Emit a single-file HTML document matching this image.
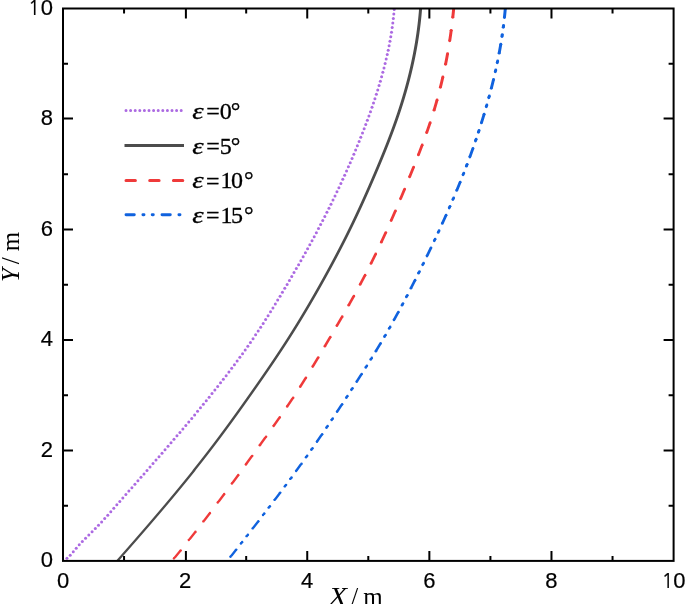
<!DOCTYPE html>
<html><head><meta charset="utf-8"><style>
html,body{margin:0;padding:0;background:#fff;width:685px;height:604px;overflow:hidden}
svg{display:block}
</style></head><body>
<svg width="685" height="604" viewBox="0 0 685 604"><defs><clipPath id="c"><rect x="63.0" y="8.5" width="610.6" height="552.4"/></clipPath></defs>
<g clip-path="url(#c)" stroke="none">
<g fill="#AC6AE2"><circle cx="63.42" cy="561.29" r="1.50"/><circle cx="66.94" cy="558.36" r="1.50"/><circle cx="70.21" cy="555.17" r="1.50"/><circle cx="73.28" cy="551.77" r="1.50"/><circle cx="76.24" cy="548.28" r="1.50"/><circle cx="79.22" cy="544.81" r="1.50"/><circle cx="82.34" cy="541.46" r="1.50"/><circle cx="85.56" cy="538.21" r="1.50"/><circle cx="88.82" cy="535.01" r="1.50"/><circle cx="92.09" cy="531.81" r="1.50"/><circle cx="95.32" cy="528.56" r="1.50"/><circle cx="98.49" cy="525.27" r="1.50"/><circle cx="101.62" cy="521.93" r="1.50"/><circle cx="104.71" cy="518.55" r="1.50"/><circle cx="107.76" cy="515.15" r="1.50"/><circle cx="110.79" cy="511.72" r="1.50"/><circle cx="113.81" cy="508.28" r="1.50"/><circle cx="116.82" cy="504.84" r="1.50"/><circle cx="119.83" cy="501.39" r="1.50"/><circle cx="122.84" cy="497.95" r="1.50"/><circle cx="125.86" cy="494.51" r="1.50"/><circle cx="128.88" cy="491.07" r="1.50"/><circle cx="131.90" cy="487.63" r="1.50"/><circle cx="134.91" cy="484.20" r="1.50"/><circle cx="137.93" cy="480.76" r="1.50"/><circle cx="140.95" cy="477.32" r="1.50"/><circle cx="143.97" cy="473.88" r="1.50"/><circle cx="146.98" cy="470.44" r="1.50"/><circle cx="150.00" cy="467.00" r="1.50"/><circle cx="153.01" cy="463.55" r="1.50"/><circle cx="156.02" cy="460.11" r="1.50"/><circle cx="159.02" cy="456.66" r="1.50"/><circle cx="162.02" cy="453.20" r="1.50"/><circle cx="165.02" cy="449.75" r="1.50"/><circle cx="168.01" cy="446.29" r="1.50"/><circle cx="171.00" cy="442.82" r="1.50"/><circle cx="173.98" cy="439.35" r="1.50"/><circle cx="176.95" cy="435.87" r="1.50"/><circle cx="179.92" cy="432.39" r="1.50"/><circle cx="182.88" cy="428.90" r="1.50"/><circle cx="185.83" cy="425.41" r="1.50"/><circle cx="188.78" cy="421.91" r="1.50"/><circle cx="191.72" cy="418.40" r="1.50"/><circle cx="194.65" cy="414.89" r="1.50"/><circle cx="197.56" cy="411.36" r="1.50"/><circle cx="200.47" cy="407.83" r="1.50"/><circle cx="203.37" cy="404.29" r="1.50"/><circle cx="206.26" cy="400.75" r="1.50"/><circle cx="209.14" cy="397.19" r="1.50"/><circle cx="212.00" cy="393.62" r="1.50"/><circle cx="214.86" cy="390.05" r="1.50"/><circle cx="217.70" cy="386.46" r="1.50"/><circle cx="220.52" cy="382.86" r="1.50"/><circle cx="223.34" cy="379.25" r="1.50"/><circle cx="226.13" cy="375.63" r="1.50"/><circle cx="228.91" cy="372.00" r="1.50"/><circle cx="231.68" cy="368.35" r="1.50"/><circle cx="234.42" cy="364.69" r="1.50"/><circle cx="237.15" cy="361.02" r="1.50"/><circle cx="239.85" cy="357.33" r="1.50"/><circle cx="242.54" cy="353.63" r="1.50"/><circle cx="245.20" cy="349.91" r="1.50"/><circle cx="247.84" cy="346.17" r="1.50"/><circle cx="250.46" cy="342.42" r="1.50"/><circle cx="253.05" cy="338.65" r="1.50"/><circle cx="255.62" cy="334.86" r="1.50"/><circle cx="258.16" cy="331.05" r="1.50"/><circle cx="260.67" cy="327.23" r="1.50"/><circle cx="263.17" cy="323.40" r="1.50"/><circle cx="265.64" cy="319.55" r="1.50"/><circle cx="268.09" cy="315.68" r="1.50"/><circle cx="270.52" cy="311.81" r="1.50"/><circle cx="272.93" cy="307.92" r="1.50"/><circle cx="275.33" cy="304.02" r="1.50"/><circle cx="277.71" cy="300.12" r="1.50"/><circle cx="280.07" cy="296.20" r="1.50"/><circle cx="282.42" cy="292.28" r="1.50"/><circle cx="284.76" cy="288.34" r="1.50"/><circle cx="287.10" cy="284.41" r="1.50"/><circle cx="289.42" cy="280.47" r="1.50"/><circle cx="291.73" cy="276.52" r="1.50"/><circle cx="294.03" cy="272.57" r="1.50"/><circle cx="296.33" cy="268.61" r="1.50"/><circle cx="298.61" cy="264.64" r="1.50"/><circle cx="300.88" cy="260.67" r="1.50"/><circle cx="303.14" cy="256.69" r="1.50"/><circle cx="305.38" cy="252.70" r="1.50"/><circle cx="307.61" cy="248.71" r="1.50"/><circle cx="309.83" cy="244.71" r="1.50"/><circle cx="312.02" cy="240.69" r="1.50"/><circle cx="314.21" cy="236.67" r="1.50"/><circle cx="316.37" cy="232.64" r="1.50"/><circle cx="318.52" cy="228.60" r="1.50"/><circle cx="320.64" cy="224.55" r="1.50"/><circle cx="322.75" cy="220.49" r="1.50"/><circle cx="324.84" cy="216.42" r="1.50"/><circle cx="326.91" cy="212.34" r="1.50"/><circle cx="328.96" cy="208.25" r="1.50"/><circle cx="330.99" cy="204.15" r="1.50"/><circle cx="333.00" cy="200.04" r="1.50"/><circle cx="334.99" cy="195.92" r="1.50"/><circle cx="336.96" cy="191.79" r="1.50"/><circle cx="338.92" cy="187.66" r="1.50"/><circle cx="340.85" cy="183.51" r="1.50"/><circle cx="342.77" cy="179.35" r="1.50"/><circle cx="344.66" cy="175.19" r="1.50"/><circle cx="346.54" cy="171.02" r="1.50"/><circle cx="348.40" cy="166.84" r="1.50"/><circle cx="350.24" cy="162.65" r="1.50"/><circle cx="352.05" cy="158.45" r="1.50"/><circle cx="353.85" cy="154.24" r="1.50"/><circle cx="355.62" cy="150.03" r="1.50"/><circle cx="357.37" cy="145.80" r="1.50"/><circle cx="359.10" cy="141.56" r="1.50"/><circle cx="360.81" cy="137.32" r="1.50"/><circle cx="362.49" cy="133.06" r="1.50"/><circle cx="364.14" cy="128.80" r="1.50"/><circle cx="365.77" cy="124.52" r="1.50"/><circle cx="367.37" cy="120.24" r="1.50"/><circle cx="368.94" cy="115.94" r="1.50"/><circle cx="370.49" cy="111.63" r="1.50"/><circle cx="372.00" cy="107.32" r="1.50"/><circle cx="373.48" cy="102.99" r="1.50"/><circle cx="374.93" cy="98.65" r="1.50"/><circle cx="376.35" cy="94.30" r="1.50"/><circle cx="377.72" cy="89.93" r="1.50"/><circle cx="379.06" cy="85.56" r="1.50"/><circle cx="380.36" cy="81.17" r="1.50"/><circle cx="381.62" cy="76.77" r="1.50"/><circle cx="382.83" cy="72.36" r="1.50"/><circle cx="384.00" cy="67.94" r="1.50"/><circle cx="385.12" cy="63.50" r="1.50"/><circle cx="386.20" cy="59.06" r="1.50"/><circle cx="387.22" cy="54.60" r="1.50"/><circle cx="388.19" cy="50.13" r="1.50"/><circle cx="389.10" cy="45.64" r="1.50"/><circle cx="389.96" cy="41.15" r="1.50"/><circle cx="390.76" cy="36.65" r="1.50"/><circle cx="391.50" cy="32.13" r="1.50"/><circle cx="392.18" cy="27.61" r="1.50"/><circle cx="392.79" cy="23.07" r="1.50"/><circle cx="393.34" cy="18.53" r="1.50"/><circle cx="393.81" cy="13.98" r="1.50"/><circle cx="394.22" cy="9.42" r="1.50"/></g>
<polygon fill="#4C4C4C" points="113.97,562.90 114.86,561.90 115.74,560.90 116.62,559.90 117.50,558.90 118.38,557.90 119.26,556.90 120.14,555.90 121.01,554.90 121.89,553.90 122.77,552.90 123.65,551.90 124.52,550.90 125.40,549.90 126.28,548.90 127.15,547.90 128.03,546.90 128.90,545.90 129.78,544.90 130.65,543.89 131.52,542.89 132.40,541.89 133.27,540.89 134.14,539.89 135.01,538.89 135.88,537.89 136.75,536.89 137.62,535.89 138.49,534.89 139.35,533.89 140.22,532.89 141.09,531.89 141.95,530.89 142.82,529.89 143.68,528.89 144.54,527.89 145.41,526.89 146.27,525.89 147.13,524.89 147.99,523.89 148.85,522.89 149.71,521.89 150.56,520.89 151.42,519.89 152.28,518.89 153.13,517.89 153.99,516.89 154.84,515.89 155.69,514.89 156.54,513.89 157.39,512.89 158.24,511.89 159.09,510.89 159.94,509.89 160.79,508.89 161.63,507.89 162.48,506.88 163.32,505.88 164.17,504.88 165.01,503.88 165.85,502.88 166.69,501.88 167.53,500.88 168.36,499.88 169.20,498.88 170.04,497.88 170.87,496.88 171.70,495.88 172.54,494.88 173.37,493.88 174.20,492.88 175.03,491.88 175.85,490.88 176.68,489.88 177.50,488.88 178.33,487.88 179.15,486.88 179.97,485.88 180.79,484.88 181.61,483.88 182.43,482.88 183.24,481.88 184.06,480.88 184.87,479.88 185.68,478.88 186.50,477.88 187.30,476.88 188.11,475.88 188.92,474.88 189.73,473.88 190.53,472.88 191.33,471.88 192.13,470.88 192.93,469.87 193.73,468.87 194.53,467.87 195.32,466.87 196.12,465.87 196.91,464.87 197.70,463.87 198.49,462.87 199.27,461.87 200.06,460.87 200.85,459.87 201.63,458.87 202.41,457.87 203.19,456.87 203.97,455.87 204.74,454.87 205.52,453.87 206.29,452.87 207.06,451.87 207.83,450.87 208.60,449.87 209.37,448.87 210.13,447.87 210.89,446.87 211.66,445.87 212.42,444.87 213.17,443.87 213.93,442.87 214.68,441.87 215.44,440.87 216.19,439.87 216.94,438.87 217.69,437.87 218.44,436.87 219.18,435.87 219.93,434.87 220.67,433.87 221.41,432.86 222.15,431.86 222.89,430.86 223.63,429.86 224.37,428.86 225.10,427.86 225.84,426.86 226.57,425.86 227.30,424.86 228.03,423.86 228.76,422.86 229.49,421.86 230.22,420.86 230.94,419.86 231.67,418.86 232.39,417.86 233.12,416.86 233.84,415.86 234.56,414.86 235.28,413.86 236.00,412.86 236.72,411.86 237.43,410.86 238.15,409.86 238.86,408.86 239.58,407.86 240.29,406.86 241.01,405.86 241.72,404.86 242.43,403.86 243.14,402.86 243.85,401.86 244.56,400.86 245.27,399.86 245.98,398.86 246.68,397.86 247.39,396.86 248.10,395.85 248.80,394.85 249.51,393.85 250.21,392.85 250.92,391.85 251.62,390.85 252.32,389.85 253.02,388.85 253.73,387.85 254.43,386.85 255.13,385.85 255.82,384.85 256.52,383.85 257.22,382.85 257.92,381.85 258.61,380.85 259.31,379.85 260.00,378.85 260.70,377.85 261.39,376.85 262.08,375.85 262.77,374.85 263.46,373.85 264.15,372.85 264.84,371.85 265.52,370.85 266.21,369.85 266.89,368.85 267.57,367.85 268.26,366.85 268.94,365.85 269.62,364.85 270.29,363.85 270.97,362.85 271.65,361.85 272.32,360.85 272.99,359.85 273.67,358.84 274.34,357.84 275.00,356.84 275.67,355.84 276.34,354.84 277.00,353.84 277.67,352.84 278.33,351.84 278.99,350.84 279.65,349.84 280.30,348.84 280.96,347.84 281.61,346.84 282.27,345.84 282.92,344.84 283.57,343.84 284.21,342.84 284.86,341.84 285.50,340.84 286.15,339.84 286.79,338.84 287.43,337.84 288.06,336.84 288.70,335.84 289.33,334.84 289.96,333.84 290.59,332.84 291.22,331.84 291.85,330.84 292.47,329.84 293.10,328.84 293.72,327.84 294.34,326.84 294.96,325.84 295.57,324.84 296.19,323.84 296.80,322.84 297.41,321.84 298.02,320.83 298.63,319.83 299.24,318.83 299.85,317.83 300.45,316.83 301.05,315.83 301.65,314.83 302.25,313.83 302.85,312.83 303.45,311.83 304.04,310.83 304.64,309.83 305.23,308.83 305.82,307.83 306.41,306.83 307.00,305.83 307.59,304.83 308.17,303.83 308.76,302.83 309.34,301.83 309.92,300.83 310.50,299.83 311.08,298.83 311.66,297.83 312.24,296.83 312.81,295.83 313.39,294.83 313.96,293.83 314.53,292.83 315.10,291.83 315.67,290.83 316.24,289.83 316.81,288.83 317.37,287.83 317.94,286.83 318.50,285.83 319.06,284.83 319.62,283.82 320.18,282.82 320.74,281.82 321.30,280.82 321.86,279.82 322.41,278.82 322.97,277.82 323.52,276.82 324.07,275.82 324.62,274.82 325.17,273.82 325.72,272.82 326.27,271.82 326.82,270.82 327.36,269.82 327.91,268.82 328.45,267.82 328.99,266.82 329.53,265.82 330.07,264.82 330.61,263.82 331.14,262.82 331.68,261.82 332.21,260.82 332.75,259.82 333.28,258.82 333.81,257.82 334.34,256.82 334.86,255.82 335.39,254.82 335.92,253.82 336.44,252.82 336.96,251.82 337.48,250.82 338.00,249.82 338.52,248.82 339.04,247.82 339.55,246.81 340.07,245.81 340.58,244.81 341.09,243.81 341.60,242.81 342.11,241.81 342.62,240.81 343.12,239.81 343.63,238.81 344.13,237.81 344.63,236.81 345.13,235.81 345.63,234.81 346.13,233.81 346.62,232.81 347.12,231.81 347.61,230.81 348.10,229.81 348.59,228.81 349.08,227.81 349.57,226.81 350.05,225.81 350.53,224.81 351.02,223.81 351.50,222.81 351.98,221.81 352.46,220.81 352.93,219.81 353.41,218.81 353.88,217.81 354.35,216.81 354.83,215.81 355.30,214.81 355.76,213.81 356.23,212.81 356.70,211.81 357.16,210.81 357.63,209.80 358.09,208.80 358.55,207.80 359.01,206.80 359.47,205.80 359.92,204.80 360.38,203.80 360.84,202.80 361.29,201.80 361.74,200.80 362.19,199.80 362.64,198.80 363.09,197.80 363.54,196.80 363.99,195.80 364.44,194.80 364.88,193.80 365.33,192.80 365.77,191.80 366.21,190.80 366.65,189.80 367.09,188.80 367.53,187.80 367.97,186.80 368.41,185.80 368.84,184.80 369.28,183.80 369.71,182.80 370.15,181.80 370.58,180.80 371.01,179.80 371.44,178.80 371.87,177.80 372.30,176.80 372.73,175.80 373.16,174.80 373.59,173.80 374.01,172.79 374.44,171.79 374.86,170.79 375.29,169.79 375.71,168.79 376.13,167.79 376.56,166.79 376.98,165.79 377.39,164.79 377.81,163.79 378.23,162.79 378.65,161.79 379.06,160.79 379.48,159.79 379.89,158.79 380.30,157.79 380.71,156.79 381.12,155.79 381.53,154.79 381.94,153.79 382.34,152.79 382.75,151.79 383.15,150.79 383.55,149.79 383.95,148.79 384.35,147.79 384.75,146.79 385.15,145.79 385.54,144.79 385.93,143.79 386.33,142.79 386.72,141.79 387.11,140.79 387.49,139.79 387.88,138.79 388.26,137.79 388.64,136.79 389.02,135.78 389.40,134.78 389.78,133.78 390.15,132.78 390.53,131.78 390.90,130.78 391.27,129.78 391.64,128.78 392.00,127.78 392.37,126.78 392.73,125.78 393.09,124.78 393.45,123.78 393.80,122.78 394.16,121.78 394.51,120.78 394.86,119.78 395.21,118.78 395.55,117.78 395.90,116.78 396.24,115.78 396.58,114.78 396.91,113.78 397.25,112.78 397.58,111.78 397.91,110.78 398.24,109.78 398.56,108.78 398.89,107.78 399.21,106.78 399.53,105.78 399.85,104.78 400.16,103.78 400.47,102.78 400.78,101.78 401.09,100.78 401.40,99.78 401.70,98.77 402.00,97.77 402.30,96.77 402.60,95.77 402.89,94.77 403.19,93.77 403.48,92.77 403.76,91.77 404.05,90.77 404.33,89.77 404.61,88.77 404.89,87.77 405.17,86.77 405.44,85.77 405.71,84.77 405.98,83.77 406.25,82.77 406.51,81.77 406.78,80.77 407.04,79.77 407.29,78.77 407.55,77.77 407.80,76.77 408.05,75.77 408.30,74.77 408.54,73.77 408.79,72.77 409.03,71.77 409.26,70.77 409.50,69.77 409.73,68.77 409.96,67.77 410.19,66.77 410.42,65.77 410.64,64.77 410.86,63.77 411.08,62.77 411.30,61.76 411.51,60.76 411.72,59.76 411.93,58.76 412.14,57.76 412.34,56.76 412.54,55.76 412.74,54.76 412.94,53.76 413.13,52.76 413.32,51.76 413.51,50.76 413.70,49.76 413.88,48.76 414.06,47.76 414.24,46.76 414.42,45.76 414.59,44.76 414.76,43.76 414.93,42.76 415.09,41.76 415.26,40.76 415.42,39.76 415.58,38.76 415.73,37.76 415.88,36.76 416.03,35.76 416.18,34.76 416.33,33.76 416.47,32.76 416.61,31.76 416.74,30.76 416.88,29.76 417.01,28.76 417.14,27.76 417.26,26.76 417.39,25.76 417.51,24.75 417.63,23.75 417.74,22.75 417.86,21.75 417.97,20.75 418.07,19.75 418.18,18.75 418.28,17.75 418.38,16.75 418.48,15.75 418.57,14.75 418.66,13.75 418.75,12.75 418.83,11.75 418.92,10.75 419.00,9.75 419.07,8.75 419.15,7.75 419.22,6.75 422.22,6.75 422.15,7.75 422.07,8.75 422.00,9.75 421.92,10.75 421.83,11.75 421.75,12.75 421.66,13.75 421.57,14.75 421.48,15.75 421.38,16.75 421.28,17.75 421.18,18.75 421.07,19.75 420.97,20.75 420.86,21.75 420.74,22.75 420.63,23.75 420.51,24.75 420.39,25.76 420.26,26.76 420.14,27.76 420.01,28.76 419.88,29.76 419.74,30.76 419.61,31.76 419.47,32.76 419.33,33.76 419.18,34.76 419.03,35.76 418.88,36.76 418.73,37.76 418.58,38.76 418.42,39.76 418.26,40.76 418.09,41.76 417.93,42.76 417.76,43.76 417.59,44.76 417.42,45.76 417.24,46.76 417.06,47.76 416.88,48.76 416.70,49.76 416.51,50.76 416.32,51.76 416.13,52.76 415.94,53.76 415.74,54.76 415.54,55.76 415.34,56.76 415.14,57.76 414.93,58.76 414.72,59.76 414.51,60.76 414.30,61.76 414.08,62.77 413.86,63.77 413.64,64.77 413.42,65.77 413.19,66.77 412.96,67.77 412.73,68.77 412.50,69.77 412.26,70.77 412.03,71.77 411.79,72.77 411.54,73.77 411.30,74.77 411.05,75.77 410.80,76.77 410.55,77.77 410.29,78.77 410.04,79.77 409.78,80.77 409.51,81.77 409.25,82.77 408.98,83.77 408.71,84.77 408.44,85.77 408.17,86.77 407.89,87.77 407.61,88.77 407.33,89.77 407.05,90.77 406.76,91.77 406.48,92.77 406.19,93.77 405.89,94.77 405.60,95.77 405.30,96.77 405.00,97.77 404.70,98.77 404.40,99.78 404.09,100.78 403.78,101.78 403.47,102.78 403.16,103.78 402.85,104.78 402.53,105.78 402.21,106.78 401.89,107.78 401.56,108.78 401.24,109.78 400.91,110.78 400.58,111.78 400.25,112.78 399.91,113.78 399.58,114.78 399.24,115.78 398.90,116.78 398.55,117.78 398.21,118.78 397.86,119.78 397.51,120.78 397.16,121.78 396.80,122.78 396.45,123.78 396.09,124.78 395.73,125.78 395.37,126.78 395.00,127.78 394.64,128.78 394.27,129.78 393.90,130.78 393.53,131.78 393.15,132.78 392.78,133.78 392.40,134.78 392.02,135.78 391.64,136.79 391.26,137.79 390.88,138.79 390.49,139.79 390.11,140.79 389.72,141.79 389.33,142.79 388.93,143.79 388.54,144.79 388.15,145.79 387.75,146.79 387.35,147.79 386.95,148.79 386.55,149.79 386.15,150.79 385.75,151.79 385.34,152.79 384.94,153.79 384.53,154.79 384.12,155.79 383.71,156.79 383.30,157.79 382.89,158.79 382.48,159.79 382.06,160.79 381.65,161.79 381.23,162.79 380.81,163.79 380.39,164.79 379.98,165.79 379.56,166.79 379.13,167.79 378.71,168.79 378.29,169.79 377.86,170.79 377.44,171.79 377.01,172.79 376.59,173.80 376.16,174.80 375.73,175.80 375.30,176.80 374.87,177.80 374.44,178.80 374.01,179.80 373.58,180.80 373.15,181.80 372.71,182.80 372.28,183.80 371.84,184.80 371.41,185.80 370.97,186.80 370.53,187.80 370.09,188.80 369.65,189.80 369.21,190.80 368.77,191.80 368.33,192.80 367.88,193.80 367.44,194.80 366.99,195.80 366.54,196.80 366.09,197.80 365.64,198.80 365.19,199.80 364.74,200.80 364.29,201.80 363.84,202.80 363.38,203.80 362.92,204.80 362.47,205.80 362.01,206.80 361.55,207.80 361.09,208.80 360.63,209.80 360.16,210.81 359.70,211.81 359.23,212.81 358.76,213.81 358.30,214.81 357.83,215.81 357.35,216.81 356.88,217.81 356.41,218.81 355.93,219.81 355.46,220.81 354.98,221.81 354.50,222.81 354.02,223.81 353.53,224.81 353.05,225.81 352.57,226.81 352.08,227.81 351.59,228.81 351.10,229.81 350.61,230.81 350.12,231.81 349.62,232.81 349.13,233.81 348.63,234.81 348.13,235.81 347.63,236.81 347.13,237.81 346.63,238.81 346.12,239.81 345.62,240.81 345.11,241.81 344.60,242.81 344.09,243.81 343.58,244.81 343.07,245.81 342.55,246.81 342.04,247.82 341.52,248.82 341.00,249.82 340.48,250.82 339.96,251.82 339.44,252.82 338.92,253.82 338.39,254.82 337.86,255.82 337.34,256.82 336.81,257.82 336.28,258.82 335.75,259.82 335.21,260.82 334.68,261.82 334.14,262.82 333.61,263.82 333.07,264.82 332.53,265.82 331.99,266.82 331.45,267.82 330.91,268.82 330.36,269.82 329.82,270.82 329.27,271.82 328.72,272.82 328.17,273.82 327.62,274.82 327.07,275.82 326.52,276.82 325.97,277.82 325.41,278.82 324.86,279.82 324.30,280.82 323.74,281.82 323.18,282.82 322.62,283.82 322.06,284.83 321.50,285.83 320.94,286.83 320.37,287.83 319.81,288.83 319.24,289.83 318.67,290.83 318.10,291.83 317.53,292.83 316.96,293.83 316.39,294.83 315.81,295.83 315.24,296.83 314.66,297.83 314.08,298.83 313.50,299.83 312.92,300.83 312.34,301.83 311.76,302.83 311.17,303.83 310.59,304.83 310.00,305.83 309.41,306.83 308.82,307.83 308.23,308.83 307.64,309.83 307.04,310.83 306.45,311.83 305.85,312.83 305.25,313.83 304.65,314.83 304.05,315.83 303.45,316.83 302.85,317.83 302.24,318.83 301.63,319.83 301.02,320.83 300.41,321.84 299.80,322.84 299.19,323.84 298.57,324.84 297.96,325.84 297.34,326.84 296.72,327.84 296.10,328.84 295.47,329.84 294.85,330.84 294.22,331.84 293.59,332.84 292.96,333.84 292.33,334.84 291.70,335.84 291.06,336.84 290.43,337.84 289.79,338.84 289.15,339.84 288.50,340.84 287.86,341.84 287.21,342.84 286.57,343.84 285.92,344.84 285.27,345.84 284.61,346.84 283.96,347.84 283.30,348.84 282.65,349.84 281.99,350.84 281.33,351.84 280.67,352.84 280.00,353.84 279.34,354.84 278.67,355.84 278.00,356.84 277.34,357.84 276.67,358.84 275.99,359.85 275.32,360.85 274.65,361.85 273.97,362.85 273.29,363.85 272.62,364.85 271.94,365.85 271.26,366.85 270.57,367.85 269.89,368.85 269.21,369.85 268.52,370.85 267.84,371.85 267.15,372.85 266.46,373.85 265.77,374.85 265.08,375.85 264.39,376.85 263.70,377.85 263.00,378.85 262.31,379.85 261.61,380.85 260.92,381.85 260.22,382.85 259.52,383.85 258.82,384.85 258.13,385.85 257.43,386.85 256.73,387.85 256.02,388.85 255.32,389.85 254.62,390.85 253.92,391.85 253.21,392.85 252.51,393.85 251.80,394.85 251.10,395.85 250.39,396.86 249.68,397.86 248.98,398.86 248.27,399.86 247.56,400.86 246.85,401.86 246.14,402.86 245.43,403.86 244.72,404.86 244.01,405.86 243.29,406.86 242.58,407.86 241.86,408.86 241.15,409.86 240.43,410.86 239.72,411.86 239.00,412.86 238.28,413.86 237.56,414.86 236.84,415.86 236.12,416.86 235.39,417.86 234.67,418.86 233.94,419.86 233.22,420.86 232.49,421.86 231.76,422.86 231.03,423.86 230.30,424.86 229.57,425.86 228.84,426.86 228.10,427.86 227.37,428.86 226.63,429.86 225.89,430.86 225.15,431.86 224.41,432.86 223.67,433.87 222.93,434.87 222.18,435.87 221.44,436.87 220.69,437.87 219.94,438.87 219.19,439.87 218.44,440.87 217.68,441.87 216.93,442.87 216.17,443.87 215.42,444.87 214.66,445.87 213.89,446.87 213.13,447.87 212.37,448.87 211.60,449.87 210.83,450.87 210.06,451.87 209.29,452.87 208.52,453.87 207.74,454.87 206.97,455.87 206.19,456.87 205.41,457.87 204.63,458.87 203.85,459.87 203.06,460.87 202.27,461.87 201.49,462.87 200.70,463.87 199.91,464.87 199.12,465.87 198.32,466.87 197.53,467.87 196.73,468.87 195.93,469.87 195.13,470.88 194.33,471.88 193.53,472.88 192.73,473.88 191.92,474.88 191.11,475.88 190.30,476.88 189.50,477.88 188.68,478.88 187.87,479.88 187.06,480.88 186.24,481.88 185.43,482.88 184.61,483.88 183.79,484.88 182.97,485.88 182.15,486.88 181.33,487.88 180.50,488.88 179.68,489.88 178.85,490.88 178.03,491.88 177.20,492.88 176.37,493.88 175.54,494.88 174.70,495.88 173.87,496.88 173.04,497.88 172.20,498.88 171.36,499.88 170.53,500.88 169.69,501.88 168.85,502.88 168.01,503.88 167.17,504.88 166.32,505.88 165.48,506.88 164.63,507.89 163.79,508.89 162.94,509.89 162.09,510.89 161.24,511.89 160.39,512.89 159.54,513.89 158.69,514.89 157.84,515.89 156.99,516.89 156.13,517.89 155.28,518.89 154.42,519.89 153.56,520.89 152.71,521.89 151.85,522.89 150.99,523.89 150.13,524.89 149.27,525.89 148.41,526.89 147.54,527.89 146.68,528.89 145.82,529.89 144.95,530.89 144.09,531.89 143.22,532.89 142.35,533.89 141.49,534.89 140.62,535.89 139.75,536.89 138.88,537.89 138.01,538.89 137.14,539.89 136.27,540.89 135.40,541.89 134.52,542.89 133.65,543.89 132.78,544.90 131.90,545.90 131.03,546.90 130.15,547.90 129.28,548.90 128.40,549.90 127.52,550.90 126.65,551.90 125.77,552.90 124.89,553.90 124.01,554.90 123.14,555.90 122.26,556.90 121.38,557.90 120.50,558.90 119.62,559.90 118.74,560.90 117.86,561.90 116.97,562.90"/>
<g fill="#EF3A3A"><polygon points="172.43,558.51 173.13,557.65 173.96,556.65 174.78,555.65 175.59,554.65 176.41,553.65 177.23,552.65 178.04,551.65 178.85,550.65 179.13,550.30 182.13,550.30 181.85,550.65 181.04,551.65 180.23,552.65 179.41,553.65 178.59,554.65 177.78,555.65 176.96,556.65 176.13,557.65 175.43,558.51"/><circle cx="173.93" cy="558.51" r="1.16"/><circle cx="180.63" cy="550.30" r="1.17"/><polygon points="187.33,540.08 188.08,539.14 188.87,538.14 189.66,537.14 190.45,536.14 191.24,535.14 192.03,534.14 192.82,533.14 193.60,532.14 193.90,531.76 196.90,531.76 196.60,532.14 195.82,533.14 195.03,534.14 194.24,535.14 193.45,536.14 192.66,537.14 191.87,538.14 191.08,539.14 190.33,540.08"/><circle cx="188.83" cy="540.08" r="1.17"/><circle cx="195.40" cy="531.76" r="1.18"/><polygon points="201.94,521.42 202.54,520.64 203.31,519.64 204.08,518.64 204.84,517.64 205.61,516.64 206.38,515.64 207.14,514.64 207.90,513.64 208.39,513.00 211.39,513.00 210.90,513.64 210.14,514.64 209.38,515.64 208.61,516.64 207.84,517.64 207.08,518.64 206.31,519.64 205.54,520.64 204.94,521.42"/><circle cx="203.44" cy="521.42" r="1.19"/><circle cx="209.89" cy="513.00" r="1.19"/><polygon points="216.29,502.56 216.98,501.63 217.73,500.63 218.48,499.63 219.23,498.63 219.98,497.63 220.73,496.63 221.47,495.63 222.22,494.63 222.64,494.07 225.64,494.07 225.22,494.63 224.47,495.63 223.73,496.63 222.98,497.63 222.23,498.63 221.48,499.63 220.73,500.63 219.98,501.63 219.29,502.56"/><circle cx="217.79" cy="502.56" r="1.20"/><circle cx="224.14" cy="494.07" r="1.20"/><polygon points="230.44,483.54 231.11,482.63 231.85,481.63 232.58,480.63 233.32,479.63 234.05,478.63 234.79,477.63 235.52,476.63 236.25,475.63 236.71,475.00 239.71,475.00 239.25,475.63 238.52,476.63 237.79,477.63 237.05,478.63 236.32,479.63 235.58,480.63 234.85,481.63 234.11,482.63 233.44,483.54"/><circle cx="231.94" cy="483.54" r="1.21"/><circle cx="238.21" cy="475.00" r="1.21"/><polygon points="244.44,464.42 245.02,463.62 245.74,462.62 246.47,461.62 247.20,460.62 247.92,459.62 248.65,458.62 249.38,457.62 250.10,456.62 250.67,455.84 253.67,455.84 253.10,456.62 252.38,457.62 251.65,458.62 250.92,459.62 250.20,460.62 249.47,461.62 248.74,462.62 248.02,463.62 247.44,464.42"/><circle cx="245.94" cy="464.42" r="1.21"/><circle cx="252.17" cy="455.84" r="1.21"/><polygon points="258.35,445.23 258.97,444.37 259.70,443.37 260.42,442.37 261.14,441.37 261.86,440.37 262.58,439.37 263.30,438.37 264.02,437.37 264.55,436.64 267.55,436.64 267.02,437.37 266.30,438.37 265.58,439.37 264.86,440.37 264.14,441.37 263.42,442.37 262.70,443.37 261.97,444.37 261.35,445.23"/><circle cx="259.85" cy="445.23" r="1.22"/><circle cx="266.05" cy="436.64" r="1.22"/><polygon points="272.16,425.97 272.77,425.11 273.48,424.11 274.19,423.11 274.89,422.11 275.60,421.11 276.30,420.11 277.00,419.11 277.70,418.11 278.26,417.31 281.26,417.31 280.70,418.11 280.00,419.11 279.30,420.11 278.60,421.11 277.89,422.11 277.19,423.11 276.48,424.11 275.77,425.11 275.16,425.97"/><circle cx="273.66" cy="425.97" r="1.22"/><circle cx="279.76" cy="417.31" r="1.23"/><polygon points="285.70,406.52 286.32,405.61 287.00,404.61 287.67,403.61 288.35,402.61 289.02,401.61 289.69,400.61 290.35,399.61 291.02,398.61 291.61,397.72 294.61,397.72 294.02,398.61 293.35,399.61 292.69,400.61 292.02,401.61 291.35,402.61 290.67,403.61 290.00,404.61 289.32,405.61 288.70,406.52"/><circle cx="287.20" cy="406.52" r="1.24"/><circle cx="293.11" cy="397.72" r="1.25"/><polygon points="298.75,386.74 299.31,385.85 299.95,384.85 300.58,383.85 301.21,382.85 301.84,381.85 302.47,380.85 303.10,379.85 303.72,378.85 304.34,377.85 304.39,377.77 307.39,377.77 307.34,377.85 306.72,378.85 306.10,379.85 305.47,380.85 304.84,381.85 304.21,382.85 303.58,383.85 302.95,384.85 302.31,385.85 301.75,386.74"/><circle cx="300.25" cy="386.74" r="1.26"/><circle cx="305.89" cy="377.77" r="1.27"/><polygon points="311.25,366.60 311.70,365.85 312.31,364.85 312.91,363.85 313.51,362.85 314.12,361.85 314.72,360.85 315.32,359.85 315.91,358.84 316.51,357.84 316.71,357.52 319.71,357.52 319.51,357.84 318.91,358.84 318.32,359.85 317.72,360.85 317.12,361.85 316.51,362.85 315.91,363.85 315.31,364.85 314.70,365.85 314.25,366.60"/><circle cx="312.75" cy="366.60" r="1.28"/><circle cx="318.21" cy="357.52" r="1.29"/><polygon points="323.39,346.25 323.92,345.34 324.51,344.34 325.10,343.34 325.69,342.34 326.28,341.34 326.86,340.34 327.45,339.34 328.04,338.34 328.63,337.34 328.76,337.11 331.76,337.11 331.63,337.34 331.04,338.34 330.45,339.34 329.86,340.34 329.28,341.34 328.69,342.34 328.10,343.34 327.51,344.34 326.92,345.34 326.39,346.25"/><circle cx="324.89" cy="346.25" r="1.29"/><circle cx="330.26" cy="337.11" r="1.29"/><polygon points="335.38,325.81 335.95,324.84 336.53,323.84 337.11,322.84 337.69,321.84 338.27,320.83 338.85,319.83 339.43,318.83 340.01,317.83 340.59,316.83 340.70,316.64 343.70,316.64 343.59,316.83 343.01,317.83 342.43,318.83 341.85,319.83 341.27,320.83 340.69,321.84 340.11,322.84 339.53,323.84 338.95,324.84 338.38,325.81"/><circle cx="336.88" cy="325.81" r="1.30"/><circle cx="342.20" cy="316.64" r="1.30"/><polygon points="347.20,305.27 347.73,304.33 348.29,303.33 348.85,302.33 349.42,301.33 349.98,300.33 350.53,299.33 351.09,298.33 351.65,297.33 352.20,296.33 352.38,296.02 355.38,296.02 355.20,296.33 354.65,297.33 354.09,298.33 353.53,299.33 352.98,300.33 352.42,301.33 351.85,302.33 351.29,303.33 350.73,304.33 350.20,305.27"/><circle cx="348.70" cy="305.27" r="1.31"/><circle cx="353.88" cy="296.02" r="1.31"/><polygon points="358.64,284.51 359.14,283.57 359.67,282.57 360.20,281.57 360.73,280.57 361.26,279.57 361.79,278.57 362.31,277.57 362.83,276.57 363.35,275.57 363.58,275.13 366.58,275.13 366.35,275.57 365.83,276.57 365.31,277.57 364.79,278.57 364.26,279.57 363.73,280.57 363.20,281.57 362.67,282.57 362.14,283.57 361.64,284.51"/><circle cx="360.14" cy="284.51" r="1.32"/><circle cx="365.08" cy="275.13" r="1.33"/><polygon points="369.52,263.46 369.97,262.57 370.47,261.57 370.96,260.57 371.46,259.57 371.95,258.57 372.44,257.57 372.93,256.57 373.42,255.57 373.91,254.57 374.21,253.95 377.21,253.95 376.91,254.57 376.42,255.57 375.93,256.57 375.44,257.57 374.95,258.57 374.46,259.57 373.96,260.57 373.47,261.57 372.97,262.57 372.52,263.46"/><circle cx="371.02" cy="263.46" r="1.34"/><circle cx="375.71" cy="253.95" r="1.35"/><polygon points="379.85,242.13 380.23,241.31 380.69,240.31 381.16,239.31 381.63,238.31 382.09,237.31 382.55,236.31 383.01,235.31 383.47,234.31 383.93,233.31 384.30,232.50 387.30,232.50 386.93,233.31 386.47,234.31 386.01,235.31 385.55,236.31 385.09,237.31 384.63,238.31 384.16,239.31 383.69,240.31 383.23,241.31 382.85,242.13"/><circle cx="381.35" cy="242.13" r="1.36"/><circle cx="385.80" cy="232.50" r="1.36"/><polygon points="389.67,220.56 390.11,219.56 390.55,218.56 390.99,217.56 391.43,216.56 391.87,215.56 392.30,214.56 392.74,213.56 393.18,212.56 393.61,211.56 393.92,210.84 396.92,210.84 396.61,211.56 396.18,212.56 395.74,213.56 395.30,214.56 394.87,215.56 394.43,216.56 393.99,217.56 393.55,218.56 393.11,219.56 392.67,220.56"/><circle cx="391.17" cy="220.56" r="1.37"/><circle cx="395.42" cy="210.84" r="1.38"/><polygon points="399.06,198.80 399.48,197.80 399.90,196.80 400.32,195.80 400.74,194.80 401.16,193.80 401.58,192.80 401.99,191.80 402.41,190.80 402.83,189.80 403.15,189.02 406.15,189.02 405.83,189.80 405.41,190.80 404.99,191.80 404.58,192.80 404.16,193.80 403.74,194.80 403.32,195.80 402.90,196.80 402.48,197.80 402.06,198.80"/><circle cx="400.56" cy="198.80" r="1.38"/><circle cx="404.65" cy="189.02" r="1.39"/><polygon points="408.12,176.90 408.47,176.05 408.88,175.05 409.28,174.05 409.69,173.04 410.09,172.04 410.50,171.04 410.90,170.04 411.30,169.04 411.70,168.04 412.09,167.07 415.09,167.07 414.70,168.04 414.30,169.04 413.90,170.04 413.50,171.04 413.09,172.04 412.69,173.04 412.28,174.05 411.88,175.05 411.47,176.05 411.12,176.90"/><circle cx="409.62" cy="176.90" r="1.39"/><circle cx="413.59" cy="167.07" r="1.39"/><polygon points="416.91,154.89 417.24,154.04 417.63,153.04 418.01,152.04 418.40,151.04 418.78,150.04 419.16,149.04 419.54,148.04 419.92,147.04 420.30,146.04 420.68,145.04 420.70,144.99 423.70,144.99 423.68,145.04 423.30,146.04 422.92,147.04 422.54,148.04 422.16,149.04 421.78,150.04 421.40,151.04 421.01,152.04 420.63,153.04 420.24,154.04 419.91,154.89"/><circle cx="418.41" cy="154.89" r="1.40"/><circle cx="422.20" cy="144.99" r="1.40"/><polygon points="425.19,132.68 425.51,131.78 425.86,130.78 426.21,129.78 426.56,128.78 426.90,127.78 427.24,126.78 427.59,125.78 427.92,124.78 428.26,123.78 428.59,122.78 428.63,122.66 431.63,122.66 431.59,122.78 431.26,123.78 430.92,124.78 430.59,125.78 430.24,126.78 429.90,127.78 429.56,128.78 429.21,129.78 428.86,130.78 428.51,131.78 428.19,132.68"/><circle cx="426.69" cy="132.68" r="1.41"/><circle cx="430.13" cy="122.66" r="1.42"/><polygon points="432.60,110.17 432.87,109.28 433.17,108.28 433.46,107.28 433.76,106.28 434.05,105.28 434.34,104.28 434.63,103.28 434.91,102.28 435.19,101.28 435.47,100.28 435.55,99.99 438.55,99.99 438.47,100.28 438.19,101.28 437.91,102.28 437.63,103.28 437.34,104.28 437.05,105.28 436.76,106.28 436.46,107.28 436.17,108.28 435.87,109.28 435.60,110.17"/><circle cx="434.10" cy="110.17" r="1.44"/><circle cx="437.05" cy="99.99" r="1.45"/><polygon points="438.89,87.33 439.09,86.52 439.34,85.52 439.59,84.52 439.83,83.52 440.07,82.52 440.31,81.52 440.54,80.52 440.77,79.52 441.01,78.52 441.23,77.52 441.35,77.01 444.35,77.01 444.23,77.52 444.01,78.52 443.77,79.52 443.54,80.52 443.31,81.52 443.07,82.52 442.83,83.52 442.59,84.52 442.34,85.52 442.09,86.52 441.89,87.33"/><circle cx="440.39" cy="87.33" r="1.46"/><circle cx="442.85" cy="77.01" r="1.46"/><polygon points="444.08,64.20 444.27,63.27 444.46,62.27 444.66,61.26 444.85,60.26 445.04,59.26 445.23,58.26 445.42,57.26 445.60,56.26 445.78,55.26 445.96,54.26 446.05,53.79 449.05,53.79 448.96,54.26 448.78,55.26 448.60,56.26 448.42,57.26 448.23,58.26 448.04,59.26 447.85,60.26 447.66,61.26 447.46,62.27 447.27,63.27 447.08,64.20"/><circle cx="445.58" cy="64.20" r="1.47"/><circle cx="447.55" cy="53.79" r="1.48"/><polygon points="448.19,40.86 448.32,40.01 448.47,39.01 448.62,38.01 448.77,37.01 448.91,36.01 449.06,35.01 449.20,34.01 449.34,33.01 449.47,32.01 449.61,31.01 449.69,30.37 452.69,30.37 452.61,31.01 452.47,32.01 452.34,33.01 452.20,34.01 452.06,35.01 451.91,36.01 451.77,37.01 451.62,38.01 451.47,39.01 451.32,40.01 451.19,40.86"/><circle cx="449.69" cy="40.86" r="1.48"/><circle cx="451.19" cy="30.37" r="1.49"/><polygon points="451.28,17.37 451.37,16.50 451.48,15.50 451.59,14.50 451.69,13.50 451.80,12.50 451.90,11.50 452.00,10.50 452.09,9.50 452.19,8.50 452.28,7.50 452.35,6.82 455.35,6.82 455.28,7.50 455.19,8.50 455.09,9.50 455.00,10.50 454.90,11.50 454.80,12.50 454.69,13.50 454.59,14.50 454.48,15.50 454.37,16.50 454.28,17.37"/><circle cx="452.78" cy="17.37" r="1.49"/><circle cx="453.85" cy="6.82" r="1.49"/></g>
<g fill="#1062DE"><circle cx="225.69" cy="562.90" r="1.18"/><circle cx="225.69" cy="562.90" r="1.18"/><polygon points="229.01,556.77 229.70,555.90 230.48,554.90 231.27,553.90 232.05,552.90 232.84,551.90 233.62,550.90 234.41,549.90 234.63,549.61 237.63,549.61 237.41,549.90 236.62,550.90 235.84,551.90 235.05,552.90 234.27,553.90 233.48,554.90 232.70,555.90 232.01,556.77"/><circle cx="230.51" cy="556.77" r="1.18"/><circle cx="236.13" cy="549.61" r="1.18"/><polygon points="239.45,543.47 239.51,543.39 239.70,543.14 239.90,542.89 240.09,542.64 240.29,542.39 240.49,542.14 240.62,541.98 243.62,541.98 243.49,542.14 243.29,542.39 243.09,542.64 242.90,542.89 242.70,543.14 242.51,543.39 242.45,543.47"/><circle cx="240.95" cy="543.47" r="1.18"/><circle cx="242.12" cy="541.98" r="1.18"/><polygon points="245.18,536.15 245.18,536.14 245.37,535.89 245.57,535.64 245.76,535.39 245.96,535.14 246.16,534.89 246.34,534.65 249.34,534.65 249.16,534.89 248.96,535.14 248.76,535.39 248.57,535.64 248.37,535.89 248.18,536.14 248.18,536.15"/><circle cx="246.68" cy="536.15" r="1.18"/><circle cx="247.84" cy="534.65" r="1.18"/><polygon points="251.20,528.42 251.80,527.64 252.58,526.64 253.36,525.64 254.13,524.64 254.91,523.64 255.68,522.64 256.46,521.64 256.78,521.23 259.78,521.23 259.46,521.64 258.68,522.64 257.91,523.64 257.13,524.64 256.36,525.64 255.58,526.64 254.80,527.64 254.20,528.42"/><circle cx="252.70" cy="528.42" r="1.18"/><circle cx="258.28" cy="521.23" r="1.19"/><polygon points="261.54,515.05 261.67,514.89 261.87,514.64 262.06,514.39 262.25,514.14 262.44,513.89 262.63,513.64 262.70,513.55 265.70,513.55 265.63,513.64 265.44,513.89 265.25,514.14 265.06,514.39 264.87,514.64 264.67,514.89 264.54,515.05"/><circle cx="263.04" cy="515.05" r="1.19"/><circle cx="264.20" cy="513.55" r="1.19"/><polygon points="267.21,507.68 267.24,507.64 267.43,507.39 267.62,507.13 267.81,506.88 268.00,506.63 268.20,506.38 268.36,506.17 271.36,506.17 271.20,506.38 271.00,506.63 270.81,506.88 270.62,507.13 270.43,507.39 270.24,507.64 270.21,507.68"/><circle cx="268.71" cy="507.68" r="1.19"/><circle cx="269.86" cy="506.17" r="1.19"/><polygon points="273.15,499.88 273.91,498.88 274.66,497.88 275.42,496.88 276.18,495.88 276.93,494.88 277.69,493.88 278.44,492.88 278.63,492.62 281.63,492.62 281.44,492.88 280.69,493.88 279.93,494.88 279.18,495.88 278.42,496.88 277.66,497.88 276.91,498.88 276.15,499.88"/><circle cx="274.65" cy="499.88" r="1.19"/><circle cx="280.13" cy="492.62" r="1.20"/><polygon points="283.31,486.38 283.31,486.38 283.50,486.13 283.69,485.88 283.87,485.63 284.06,485.38 284.25,485.13 284.43,484.88 284.45,484.86 287.45,484.86 287.43,484.88 287.25,485.13 287.06,485.38 286.87,485.63 286.69,485.88 286.50,486.13 286.31,486.38 286.31,486.38"/><circle cx="284.81" cy="486.38" r="1.20"/><circle cx="285.95" cy="484.86" r="1.20"/><polygon points="288.86,478.91 288.88,478.88 289.07,478.63 289.25,478.38 289.44,478.13 289.62,477.88 289.81,477.63 289.98,477.39 292.98,477.39 292.81,477.63 292.62,477.88 292.44,478.13 292.25,478.38 292.07,478.63 291.88,478.88 291.86,478.91"/><circle cx="290.36" cy="478.91" r="1.21"/><circle cx="291.48" cy="477.39" r="1.21"/><polygon points="294.66,471.01 295.30,470.12 296.03,469.12 296.76,468.12 297.48,467.12 298.21,466.12 298.93,465.12 299.65,464.12 300.00,463.65 303.00,463.65 302.65,464.12 301.93,465.12 301.21,466.12 300.48,467.12 299.76,468.12 299.03,469.12 298.30,470.12 297.66,471.01"/><circle cx="296.16" cy="471.01" r="1.21"/><circle cx="301.50" cy="463.65" r="1.22"/><polygon points="304.54,457.31 304.67,457.12 304.85,456.87 305.02,456.62 305.20,456.37 305.38,456.12 305.56,455.87 305.64,455.76 308.64,455.76 308.56,455.87 308.38,456.12 308.20,456.37 308.02,456.62 307.85,456.87 307.67,457.12 307.54,457.31"/><circle cx="306.04" cy="457.31" r="1.22"/><circle cx="307.14" cy="455.76" r="1.22"/><polygon points="309.90,449.71 309.97,449.62 310.14,449.37 310.32,449.12 310.49,448.87 310.67,448.62 310.84,448.37 310.99,448.15 313.99,448.15 313.84,448.37 313.67,448.62 313.49,448.87 313.32,449.12 313.14,449.37 312.97,449.62 312.90,449.71"/><circle cx="311.40" cy="449.71" r="1.23"/><circle cx="312.49" cy="448.15" r="1.23"/><polygon points="315.50,441.66 316.05,440.87 316.73,439.87 317.42,438.87 318.11,437.87 318.79,436.87 319.48,435.87 320.16,434.87 320.64,434.16 323.64,434.16 323.16,434.87 322.48,435.87 321.79,436.87 321.11,437.87 320.42,438.87 319.73,439.87 319.05,440.87 318.50,441.66"/><circle cx="317.00" cy="441.66" r="1.23"/><circle cx="322.14" cy="434.16" r="1.24"/><polygon points="325.01,427.70 325.07,427.61 325.24,427.36 325.41,427.11 325.57,426.86 325.74,426.61 325.91,426.36 326.07,426.12 329.07,426.12 328.91,426.36 328.74,426.61 328.57,426.86 328.41,427.11 328.24,427.36 328.07,427.61 328.01,427.70"/><circle cx="326.51" cy="427.70" r="1.24"/><circle cx="327.57" cy="426.12" r="1.25"/><polygon points="330.19,419.97 330.26,419.86 330.43,419.61 330.59,419.36 330.76,419.11 330.93,418.86 331.09,418.61 331.24,418.39 334.24,418.39 334.09,418.61 333.93,418.86 333.76,419.11 333.59,419.36 333.43,419.61 333.26,419.86 333.19,419.97"/><circle cx="331.69" cy="419.97" r="1.25"/><circle cx="332.74" cy="418.39" r="1.25"/><polygon points="335.60,411.80 336.22,410.86 336.88,409.86 337.54,408.86 338.20,407.86 338.85,406.86 339.51,405.86 340.17,404.86 340.60,404.20 343.60,404.20 343.17,404.86 342.51,405.86 341.85,406.86 341.20,407.86 340.54,408.86 339.88,409.86 339.22,410.86 338.60,411.80"/><circle cx="337.10" cy="411.80" r="1.25"/><circle cx="342.10" cy="404.20" r="1.25"/><polygon points="344.86,397.66 344.90,397.61 345.07,397.36 345.23,397.11 345.39,396.86 345.56,396.61 345.72,396.36 345.88,396.11 345.90,396.07 348.90,396.07 348.88,396.11 348.72,396.36 348.56,396.61 348.39,396.86 348.23,397.11 348.07,397.36 347.90,397.61 347.86,397.66"/><circle cx="346.36" cy="397.66" r="1.26"/><circle cx="347.40" cy="396.07" r="1.26"/><polygon points="349.93,389.87 349.94,389.85 350.10,389.60 350.27,389.35 350.43,389.10 350.59,388.85 350.75,388.60 350.91,388.35 350.97,388.27 353.97,388.27 353.91,388.35 353.75,388.60 353.59,388.85 353.43,389.10 353.27,389.35 353.10,389.60 352.94,389.85 352.93,389.87"/><circle cx="351.43" cy="389.87" r="1.26"/><circle cx="352.47" cy="388.27" r="1.26"/><polygon points="355.25,381.64 355.75,380.85 356.40,379.85 357.04,378.85 357.68,377.85 358.32,376.85 358.96,375.85 359.60,374.85 360.16,373.97 363.16,373.97 362.60,374.85 361.96,375.85 361.32,376.85 360.68,377.85 360.04,378.85 359.40,379.85 358.75,380.85 358.25,381.64"/><circle cx="356.75" cy="381.64" r="1.26"/><circle cx="361.66" cy="373.97" r="1.27"/><polygon points="364.33,367.38 364.35,367.35 364.51,367.10 364.67,366.85 364.82,366.60 364.98,366.35 365.14,366.10 365.30,365.85 365.34,365.77 368.34,365.77 368.30,365.85 368.14,366.10 367.98,366.35 367.82,366.60 367.67,366.85 367.51,367.10 367.35,367.35 367.33,367.38"/><circle cx="365.83" cy="367.38" r="1.27"/><circle cx="366.84" cy="365.77" r="1.27"/><polygon points="369.26,359.50 369.35,359.35 369.51,359.10 369.66,358.84 369.82,358.59 369.97,358.34 370.13,358.09 370.26,357.88 373.26,357.88 373.13,358.09 372.97,358.34 372.82,358.59 372.66,358.84 372.51,359.10 372.35,359.35 372.26,359.50"/><circle cx="370.76" cy="359.50" r="1.27"/><circle cx="371.76" cy="357.88" r="1.28"/><polygon points="374.39,351.15 374.88,350.34 375.48,349.34 376.09,348.34 376.69,347.34 377.29,346.34 377.89,345.34 378.49,344.34 379.08,343.35 382.08,343.35 381.49,344.34 380.89,345.34 380.29,346.34 379.69,347.34 379.09,348.34 378.48,349.34 377.88,350.34 377.39,351.15"/><circle cx="375.89" cy="351.15" r="1.28"/><circle cx="380.58" cy="343.35" r="1.29"/><polygon points="383.04,336.63 383.06,336.59 383.21,336.34 383.35,336.09 383.50,335.84 383.65,335.59 383.79,335.34 383.94,335.09 384.00,334.99 387.00,334.99 386.94,335.09 386.79,335.34 386.65,335.59 386.50,335.84 386.35,336.09 386.21,336.34 386.06,336.59 386.04,336.63"/><circle cx="384.54" cy="336.63" r="1.30"/><circle cx="385.50" cy="334.99" r="1.30"/><polygon points="387.68,328.57 387.81,328.34 387.95,328.09 388.10,327.84 388.24,327.59 388.38,327.34 388.52,327.09 388.62,326.92 391.62,326.92 391.52,327.09 391.38,327.34 391.24,327.59 391.10,327.84 390.95,328.09 390.81,328.34 390.68,328.57"/><circle cx="389.18" cy="328.57" r="1.30"/><circle cx="390.12" cy="326.92" r="1.31"/><polygon points="392.48,320.02 393.00,319.08 393.55,318.08 394.10,317.08 394.65,316.08 395.20,315.08 395.75,314.08 396.30,313.08 396.84,312.08 396.86,312.05 399.86,312.05 399.84,312.08 399.30,313.08 398.75,314.08 398.20,315.08 397.65,316.08 397.10,317.08 396.55,318.08 396.00,319.08 395.48,320.02"/><circle cx="393.98" cy="320.02" r="1.31"/><circle cx="398.36" cy="312.05" r="1.32"/><polygon points="400.56,305.18 400.61,305.08 400.74,304.83 400.88,304.58 401.01,304.33 401.14,304.08 401.28,303.83 401.41,303.58 401.45,303.50 404.45,303.50 404.41,303.58 404.28,303.83 404.14,304.08 404.01,304.33 403.88,304.58 403.74,304.83 403.61,305.08 403.56,305.18"/><circle cx="402.06" cy="305.18" r="1.32"/><circle cx="402.95" cy="303.50" r="1.32"/><polygon points="404.90,296.96 404.97,296.83 405.10,296.58 405.23,296.33 405.37,296.08 405.50,295.83 405.63,295.58 405.76,295.33 405.79,295.27 408.79,295.27 408.76,295.33 408.63,295.58 408.50,295.83 408.37,296.08 408.23,296.33 408.10,296.58 407.97,296.83 407.90,296.96"/><circle cx="406.40" cy="296.96" r="1.33"/><circle cx="407.29" cy="295.27" r="1.33"/><polygon points="409.42,288.26 409.90,287.33 410.41,286.33 410.93,285.33 411.44,284.32 411.95,283.32 412.46,282.32 412.97,281.32 413.47,280.32 413.56,280.16 416.56,280.16 416.47,280.32 415.97,281.32 415.46,282.32 414.95,283.32 414.44,284.32 413.93,285.33 413.41,286.33 412.90,287.33 412.42,288.26"/><circle cx="410.92" cy="288.26" r="1.33"/><circle cx="415.06" cy="280.16" r="1.34"/><polygon points="417.07,273.19 417.13,273.07 417.25,272.82 417.38,272.57 417.50,272.32 417.63,272.07 417.75,271.82 417.88,271.57 417.92,271.49 420.92,271.49 420.88,271.57 420.75,271.82 420.63,272.07 420.50,272.32 420.38,272.57 420.25,272.82 420.13,273.07 420.07,273.19"/><circle cx="418.57" cy="273.19" r="1.34"/><circle cx="419.42" cy="271.49" r="1.34"/><polygon points="421.21,264.86 421.23,264.82 421.35,264.57 421.47,264.32 421.60,264.07 421.72,263.82 421.84,263.57 421.96,263.32 422.04,263.16 425.04,263.16 424.96,263.32 424.84,263.57 424.72,263.82 424.60,264.07 424.47,264.32 424.35,264.57 424.23,264.82 424.21,264.86"/><circle cx="422.71" cy="264.86" r="1.35"/><circle cx="423.54" cy="263.16" r="1.35"/><polygon points="425.51,256.06 425.99,255.07 426.47,254.07 426.96,253.07 427.44,252.07 427.92,251.07 428.40,250.07 428.88,249.07 429.35,248.07 429.45,247.86 432.45,247.86 432.35,248.07 431.88,249.07 431.40,250.07 430.92,251.07 430.44,252.07 429.96,253.07 429.47,254.07 428.99,255.07 428.51,256.06"/><circle cx="427.01" cy="256.06" r="1.35"/><circle cx="430.95" cy="247.86" r="1.35"/><polygon points="432.80,240.81 432.91,240.56 433.03,240.31 433.15,240.06 433.26,239.81 433.38,239.56 433.50,239.31 433.60,239.09 436.60,239.09 436.50,239.31 436.38,239.56 436.26,239.81 436.15,240.06 436.03,240.31 435.91,240.56 435.80,240.81"/><circle cx="434.30" cy="240.81" r="1.36"/><circle cx="435.10" cy="239.09" r="1.36"/><polygon points="436.73,232.38 436.76,232.31 436.88,232.06 437.00,231.81 437.11,231.56 437.23,231.31 437.34,231.06 437.46,230.81 437.53,230.66 440.53,230.66 440.46,230.81 440.34,231.06 440.23,231.31 440.11,231.56 440.00,231.81 439.88,232.06 439.76,232.31 439.73,232.38"/><circle cx="438.23" cy="232.38" r="1.36"/><circle cx="439.03" cy="230.66" r="1.36"/><polygon points="440.82,223.48 441.24,222.56 441.69,221.56 442.14,220.56 442.60,219.56 443.05,218.56 443.50,217.56 443.94,216.56 444.39,215.56 444.56,215.18 447.56,215.18 447.39,215.56 446.94,216.56 446.50,217.56 446.05,218.56 445.60,219.56 445.14,220.56 444.69,221.56 444.24,222.56 443.82,223.48"/><circle cx="442.32" cy="223.48" r="1.37"/><circle cx="446.06" cy="215.18" r="1.37"/><polygon points="447.72,208.05 447.82,207.80 447.93,207.55 448.04,207.30 448.15,207.05 448.26,206.80 448.37,206.55 448.48,206.31 451.48,206.31 451.37,206.55 451.26,206.80 451.15,207.05 451.04,207.30 450.93,207.55 450.82,207.80 450.72,208.05"/><circle cx="449.22" cy="208.05" r="1.37"/><circle cx="449.98" cy="206.31" r="1.37"/><polygon points="451.42,199.51 451.51,199.30 451.61,199.05 451.72,198.80 451.83,198.55 451.93,198.30 452.04,198.05 452.15,197.80 452.16,197.77 455.16,197.77 455.15,197.80 455.04,198.05 454.93,198.30 454.83,198.55 454.72,198.80 454.61,199.05 454.51,199.30 454.42,199.51"/><circle cx="452.92" cy="199.51" r="1.38"/><circle cx="453.66" cy="197.77" r="1.38"/><polygon points="455.23,190.49 455.62,189.55 456.03,188.55 456.45,187.55 456.86,186.55 457.27,185.55 457.68,184.55 458.08,183.55 458.49,182.55 458.68,182.07 461.68,182.07 461.49,182.55 461.08,183.55 460.68,184.55 460.27,185.55 459.86,186.55 459.45,187.55 459.03,188.55 458.62,189.55 458.23,190.49"/><circle cx="456.73" cy="190.49" r="1.38"/><circle cx="460.18" cy="182.07" r="1.39"/><polygon points="461.58,174.82 461.59,174.80 461.69,174.55 461.78,174.30 461.88,174.05 461.98,173.80 462.08,173.55 462.18,173.29 462.27,173.06 465.27,173.06 465.18,173.29 465.08,173.55 464.98,173.80 464.88,174.05 464.78,174.30 464.69,174.55 464.59,174.80 464.58,174.82"/><circle cx="463.08" cy="174.82" r="1.40"/><circle cx="463.77" cy="173.06" r="1.40"/><polygon points="464.93,166.15 464.97,166.04 465.07,165.79 465.16,165.54 465.26,165.29 465.35,165.04 465.45,164.79 465.54,164.54 465.60,164.37 468.60,164.37 468.54,164.54 468.45,164.79 468.35,165.04 468.26,165.29 468.16,165.54 468.07,165.79 467.97,166.04 467.93,166.15"/><circle cx="466.43" cy="166.15" r="1.40"/><circle cx="467.10" cy="164.37" r="1.40"/><polygon points="468.36,156.97 468.69,156.04 469.06,155.04 469.42,154.04 469.78,153.04 470.14,152.04 470.50,151.04 470.85,150.04 471.21,149.04 471.43,148.40 474.43,148.40 474.21,149.04 473.85,150.04 473.50,151.04 473.14,152.04 472.78,153.04 472.42,154.04 472.06,155.04 471.69,156.04 471.36,156.97"/><circle cx="469.86" cy="156.97" r="1.41"/><circle cx="472.93" cy="148.40" r="1.41"/><polygon points="473.99,141.04 474.07,140.79 474.16,140.54 474.24,140.29 474.33,140.04 474.41,139.79 474.50,139.54 474.58,139.29 474.60,139.24 477.60,139.24 477.58,139.29 477.50,139.54 477.41,139.79 477.33,140.04 477.24,140.29 477.16,140.54 477.07,140.79 476.99,141.04"/><circle cx="475.49" cy="141.04" r="1.42"/><circle cx="476.10" cy="139.24" r="1.42"/><polygon points="476.94,132.22 477.00,132.03 477.08,131.78 477.16,131.53 477.24,131.28 477.33,131.03 477.41,130.78 477.49,130.53 477.53,130.41 480.53,130.41 480.49,130.53 480.41,130.78 480.33,131.03 480.24,131.28 480.16,131.53 480.08,131.78 480.00,132.03 479.94,132.22"/><circle cx="478.44" cy="132.22" r="1.43"/><circle cx="479.03" cy="130.41" r="1.43"/><polygon points="479.93,122.88 480.20,122.03 480.51,121.03 480.82,120.03 481.13,119.03 481.44,118.03 481.74,117.03 482.05,116.03 482.35,115.03 482.60,114.18 485.60,114.18 485.35,115.03 485.05,116.03 484.74,117.03 484.44,118.03 484.13,119.03 483.82,120.03 483.51,121.03 483.20,122.03 482.93,122.88"/><circle cx="481.43" cy="122.88" r="1.43"/><circle cx="484.10" cy="114.18" r="1.44"/><polygon points="484.81,106.70 484.86,106.53 484.93,106.28 485.00,106.03 485.07,105.78 485.14,105.53 485.22,105.28 485.29,105.03 485.33,104.88 488.33,104.88 488.29,105.03 488.22,105.28 488.14,105.53 488.07,105.78 488.00,106.03 487.93,106.28 487.86,106.53 487.81,106.70"/><circle cx="486.31" cy="106.70" r="1.44"/><circle cx="486.83" cy="104.88" r="1.44"/><polygon points="487.32,97.75 487.38,97.52 487.45,97.27 487.52,97.02 487.59,96.77 487.66,96.52 487.72,96.27 487.79,96.02 487.82,95.92 490.82,95.92 490.79,96.02 490.72,96.27 490.66,96.52 490.59,96.77 490.52,97.02 490.45,97.27 490.38,97.52 490.32,97.75"/><circle cx="488.82" cy="97.75" r="1.45"/><circle cx="489.32" cy="95.92" r="1.45"/><polygon points="489.83,88.28 490.03,87.52 490.28,86.52 490.53,85.52 490.79,84.52 491.04,83.52 491.28,82.52 491.53,81.52 491.77,80.52 492.01,79.52 492.03,79.45 495.03,79.45 495.01,79.52 494.77,80.52 494.53,81.52 494.28,82.52 494.04,83.52 493.79,84.52 493.53,85.52 493.28,86.52 493.03,87.52 492.83,88.28"/><circle cx="491.33" cy="88.28" r="1.45"/><circle cx="493.53" cy="79.45" r="1.46"/><polygon points="493.80,71.85 493.82,71.77 493.88,71.52 493.93,71.27 493.99,71.02 494.05,70.77 494.10,70.52 494.16,70.27 494.21,70.02 494.22,70.00 497.22,70.00 497.21,70.02 497.16,70.27 497.10,70.52 497.05,70.77 496.99,71.02 496.93,71.27 496.88,71.52 496.82,71.77 496.80,71.85"/><circle cx="495.30" cy="71.85" r="1.46"/><circle cx="495.72" cy="70.00" r="1.46"/><polygon points="495.77,62.76 495.83,62.52 495.88,62.27 495.93,62.01 495.98,61.76 496.03,61.51 496.08,61.26 496.13,61.01 496.16,60.90 499.16,60.90 499.13,61.01 499.08,61.26 499.03,61.51 498.98,61.76 498.93,62.01 498.88,62.27 498.83,62.52 498.77,62.76"/><circle cx="497.27" cy="62.76" r="1.47"/><circle cx="497.66" cy="60.90" r="1.47"/><polygon points="497.68,53.15 497.84,52.26 498.03,51.26 498.21,50.26 498.39,49.26 498.57,48.26 498.74,47.26 498.92,46.26 499.09,45.26 499.26,44.26 499.27,44.19 502.27,44.19 502.26,44.26 502.09,45.26 501.92,46.26 501.74,47.26 501.57,48.26 501.39,49.26 501.21,50.26 501.03,51.26 500.84,52.26 500.68,53.15"/><circle cx="499.18" cy="53.15" r="1.47"/><circle cx="500.77" cy="44.19" r="1.48"/><polygon points="500.50,36.49 500.54,36.26 500.57,36.01 500.61,35.76 500.65,35.51 500.68,35.26 500.72,35.01 500.76,34.76 500.78,34.61 503.78,34.61 503.76,34.76 503.72,35.01 503.68,35.26 503.65,35.51 503.61,35.76 503.57,36.01 503.54,36.26 503.50,36.49"/><circle cx="502.00" cy="36.49" r="1.48"/><circle cx="502.28" cy="34.61" r="1.48"/><polygon points="501.79,27.28 501.80,27.26 501.83,27.01 501.86,26.76 501.89,26.51 501.92,26.26 501.95,26.01 501.99,25.76 502.02,25.51 502.03,25.39 505.03,25.39 505.02,25.51 504.99,25.76 504.95,26.01 504.92,26.26 504.89,26.51 504.86,26.76 504.83,27.01 504.80,27.26 504.79,27.28"/><circle cx="503.29" cy="27.28" r="1.49"/><circle cx="503.53" cy="25.39" r="1.49"/><polygon points="502.94,17.54 503.02,16.75 503.12,15.75 503.22,14.75 503.32,13.75 503.42,12.75 503.51,11.75 503.60,10.75 503.69,9.75 503.77,8.75 503.79,8.48 506.79,8.48 506.77,8.75 506.69,9.75 506.60,10.75 506.51,11.75 506.42,12.75 506.32,13.75 506.22,14.75 506.12,15.75 506.02,16.75 505.94,17.54"/><circle cx="504.44" cy="17.54" r="1.49"/><circle cx="505.29" cy="8.48" r="1.49"/></g>
</g>
<rect x="63.0" y="8.5" width="610.6" height="552.4" fill="none" stroke="#000" stroke-width="2"/>
<path d="M124.06 560.9v-5M124.06 8.5v5M63.0 505.66h5M673.6 505.66h-5M185.90 560.9v-10M185.90 8.5v10M63.0 450.42h10M673.6 450.42h-10M246.18 560.9v-5M246.18 8.5v5M63.0 395.18h5M673.6 395.18h-5M307.24 560.9v-10M307.24 8.5v10M63.0 339.94h10M673.6 339.94h-10M368.30 560.9v-5M368.30 8.5v5M63.0 284.70h5M673.6 284.70h-5M429.36 560.9v-10M429.36 8.5v10M63.0 229.46h10M673.6 229.46h-10M490.42 560.9v-5M490.42 8.5v5M63.0 174.22h5M673.6 174.22h-5M551.48 560.9v-10M551.48 8.5v10M63.0 118.40h10M673.6 118.40h-10M612.54 560.9v-5M612.54 8.5v5M63.0 63.74h5M673.6 63.74h-5" stroke="#000" stroke-width="2" fill="none"/>
<g font-family="'Liberation Sans', Arial, sans-serif" font-size="22" fill="#000" stroke="#000" stroke-width="0.2"><text x="63.00" y="588.4" text-anchor="middle">0</text><text x="53" y="567.10" text-anchor="end">0</text><text x="185.12" y="588.4" text-anchor="middle">2</text><text x="53" y="456.62" text-anchor="end">2</text><text x="307.24" y="588.4" text-anchor="middle">4</text><text x="53" y="346.14" text-anchor="end">4</text><text x="429.36" y="588.4" text-anchor="middle">6</text><text x="53" y="235.66" text-anchor="end">6</text><text x="551.48" y="588.4" text-anchor="middle">8</text><text x="53" y="125.18" text-anchor="end">8</text><text y="588.4"><tspan x="661.4" font-family="NanumGothic, sans-serif" font-size="20">1</tspan><tspan x="673.3">0</tspan></text><text y="14.70"><tspan x="27.9" font-family="NanumGothic, sans-serif" font-size="20">1</tspan><tspan x="40.8">0</tspan></text></g>
<g font-family="'Liberation Serif', 'Times New Roman', serif" font-size="25" fill="#000"><text font-style="italic" transform="translate(328.7 605) scale(1.2 1)">X</text><text x="351.2" y="605">/</text><text x="363.2" y="605">m</text><text transform="translate(19.0 282.0) rotate(-90)"><tspan font-style="italic">Y</tspan><tspan dx="-2.5"> /</tspan><tspan dx="-0.2"> m</tspan></text></g>
<g font-family="'Liberation Serif', 'Times New Roman', serif" font-size="24" fill="#000" stroke="#000" stroke-width="0.3"><line x1="124.5" y1="110.5" x2="184" y2="110.5" stroke="#AC6AE2" stroke-width="3" stroke-dasharray="0.01 4.59" stroke-dashoffset="-1.5" stroke-linecap="round"/><text font-style="italic" transform="translate(192.2 119.0) scale(1.2 1)">ε</text><text x="206.2 219.8 230.8" y="119.3 119.0 119.0">=0°</text><line x1="124.5" y1="145.5" x2="184" y2="145.5" stroke="#4C4C4C" stroke-width="3"/><text font-style="italic" transform="translate(192.2 153.7) scale(1.2 1)">ε</text><text x="206.2 219.8 230.8" y="154.0 153.7 153.7">=5°</text><line x1="124.5" y1="180.5" x2="184" y2="180.5" stroke="#EF3A3A" stroke-width="3" stroke-dasharray="9.4 14.3" stroke-dashoffset="-1.5" stroke-linecap="round"/><text font-style="italic" transform="translate(192.2 188.4) scale(1.2 1)">ε</text><text x="205.9 220.4 231.0 243.9" y="188.7 188.4 188.4 188.4">=10°</text><line x1="124.5" y1="214.8" x2="184" y2="214.8" stroke="#1062DE" stroke-width="2.9" stroke-dasharray="8.3 8.6 1.1 8.2 1.1 8.7" stroke-dashoffset="-1.5" stroke-linecap="round"/><text font-style="italic" transform="translate(192.2 223.1) scale(1.2 1)">ε</text><text x="205.9 220.4 231.0 243.9" y="223.4 223.1 223.1 223.1">=15°</text></g></svg>
</body></html>
